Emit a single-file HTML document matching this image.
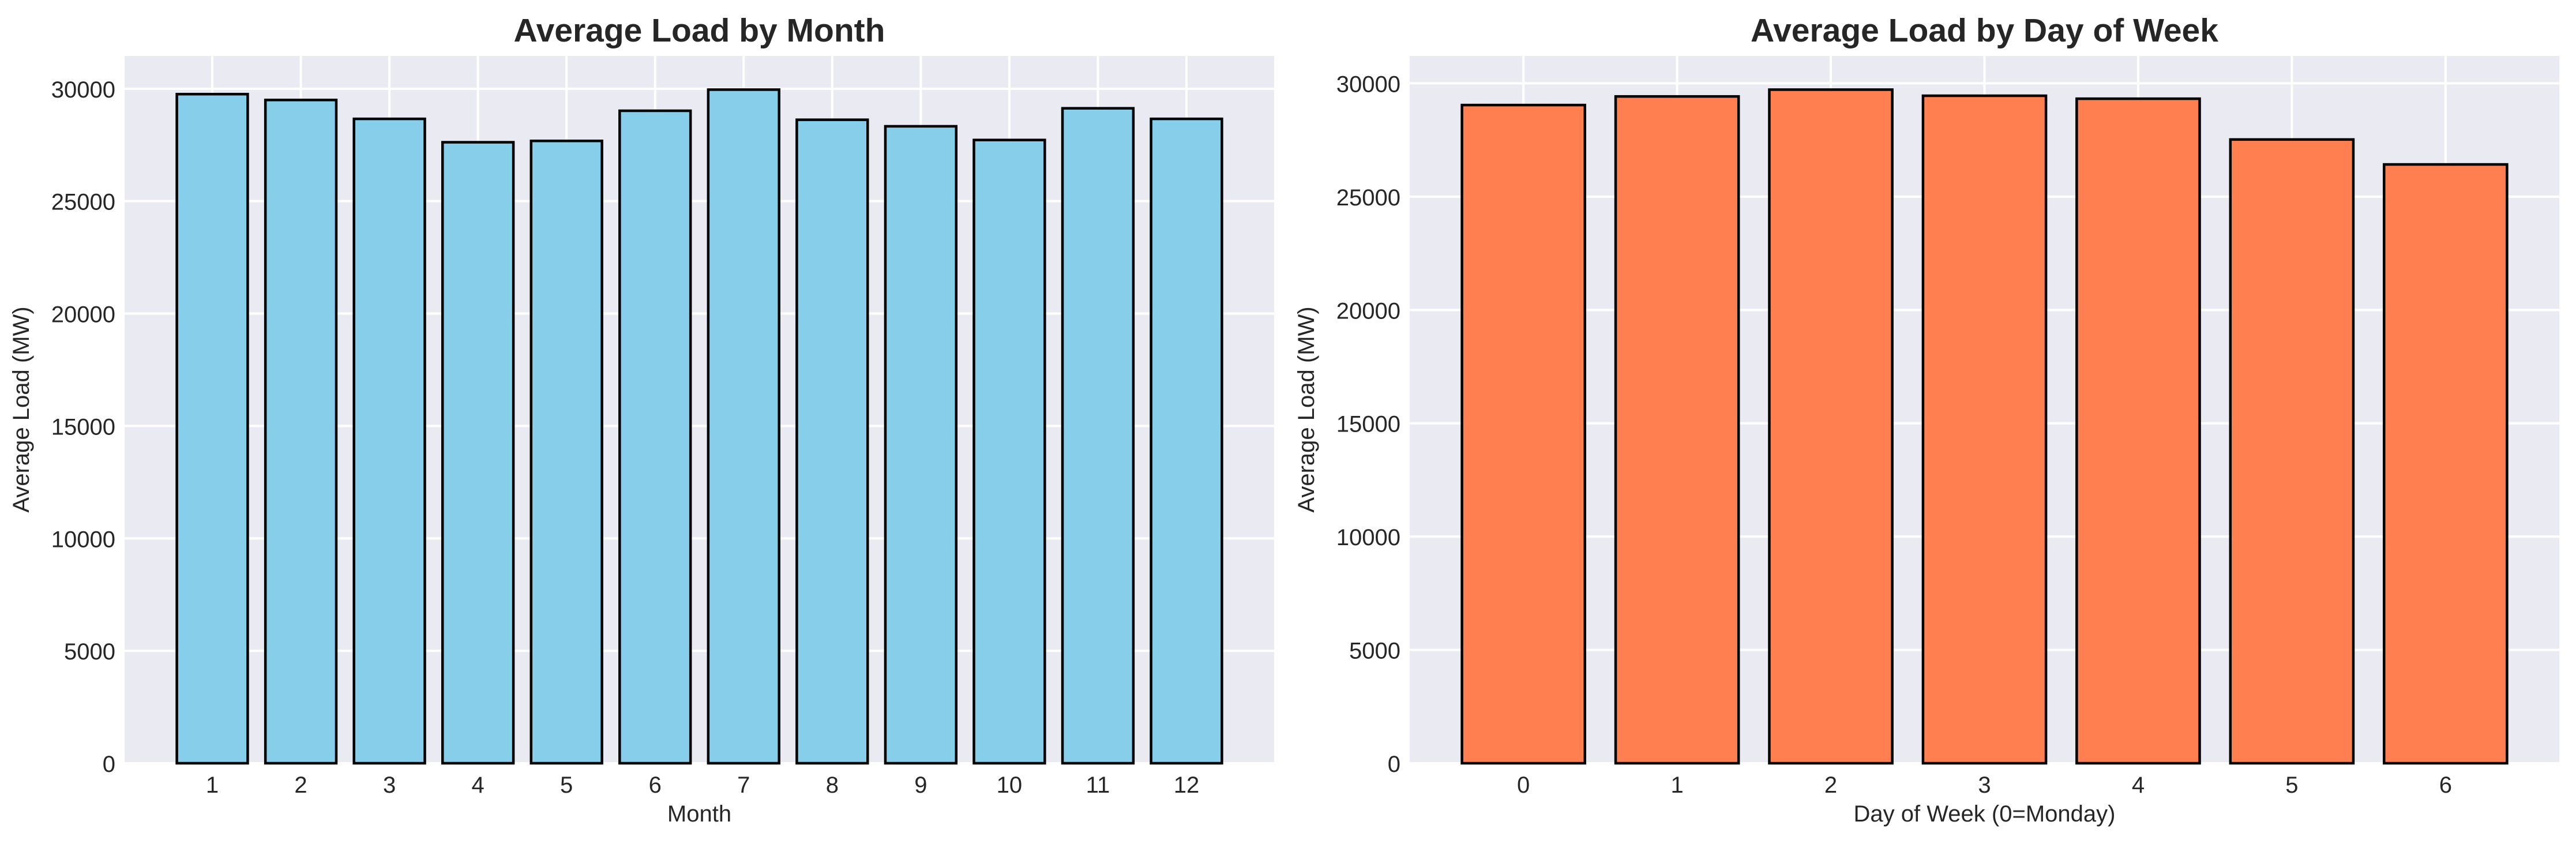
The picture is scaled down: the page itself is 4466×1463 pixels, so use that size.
<!DOCTYPE html>
<html><head><meta charset="utf-8">
<style>
html,body{margin:0;padding:0;background:#fff;}
svg{display:block;font-family:"Liberation Sans",Arial,sans-serif;}
</style></head>
<body>
<svg id="fig" width="4466" height="1463" viewBox="0 0 4466 1463" xmlns="http://www.w3.org/2000/svg"></svg>
<script>
const monthCategories = [1,2,3,4,5,6,7,8,9,10,11,12];
const monthValues = [29760,29500,28660,27620,27680,29020,29960,28620,28330,27720,29130,28660];
const dowCategories = [0,1,2,3,4,5,6];
const dowValues = [29040,29420,29720,29450,29320,27520,26420];
const yTicks = [0,5000,10000,15000,20000,25000,30000];

const NS = "http://www.w3.org/2000/svg";
const svg = document.getElementById('fig');
function mk(tag, attrs, parent){
  const e = document.createElementNS(NS, tag);
  for (const k in attrs) e.setAttribute(k, attrs[k]);
  (parent||svg).appendChild(e);
  return e;
}

function chart(cfg){
  const g = mk('g', {});
  
  
  const L = cfg.left, R = cfg.right, T = 97, B = 1323;
  const cats = cfg.cats, vals = cfg.vals;
  const lo = cats[0] - 0.4, hi = cats[cats.length-1] + 0.4;
  const m = (hi - lo) * 0.05;
  const xmin = lo - m, xmax = hi + m;
  const ymax = Math.max(...vals) * 1.05;
  const xs = v => L + (v - xmin) / (xmax - xmin) * (R - L);
  const ys = v => B - v / ymax * (B - T);

  const bg = mk('rect', {x:L, y:T, width:R-L, height:B-T, fill:'#eaeaf2'}, g);
  
  

  yTicks.forEach(t => {
    if (t > ymax) return;
    const y = ys(t);
    const gl = mk('line', {x1:L, x2:R, y1:y, y2:y, stroke:'#fff', 'stroke-width':4}, g);
    
    
    const tl = mk('text', {x:L-16, y:y+15, 'text-anchor':'end', 'font-size':40, fill:'#262626'}, g);
    tl.textContent = t;
    
    
  });
  cats.forEach(c => {
    const x = xs(c);
    const gl = mk('line', {x1:x, x2:x, y1:T, y2:B, stroke:'#fff', 'stroke-width':4}, g);
    
    
    const tl = mk('text', {x:x, y:B+51, 'text-anchor':'middle', 'font-size':40, fill:'#262626'}, g);
    tl.textContent = c;
    
    
  });
  cats.forEach((c, i) => {
    const x0 = xs(c - 0.4), x1 = xs(c + 0.4), y = ys(vals[i]);
    const b = mk('rect', {x:x0, y:y, width:x1-x0, height:B-y, fill:cfg.color, stroke:'#000', 'stroke-width':4.5}, g);
    
    
  });
  const ti = mk('text', {x:(L+R)/2, y:72, 'text-anchor':'middle', 'font-size':57, 'font-weight':'bold', fill:'#262626'}, g);
  ti.textContent = cfg.title;
  
  
  const xl = mk('text', {x:(L+R)/2, y:1424, 'text-anchor':'middle', 'font-size':40, fill:'#262626'}, g);
  xl.textContent = cfg.xlabel;
  
  
  const yx = cfg.ylabelX, yy = (T+B)/2;
  const yl = mk('text', {x:yx, y:yy, 'text-anchor':'middle', 'font-size':40, fill:'#262626', transform:'rotate(-90 '+yx+' '+yy+')'}, g);
  yl.textContent = 'Average Load (MW)';
  
  
}

chart({name:'month-chart', left:216, right:2209, cats:monthCategories, vals:monthValues, color:'#87ceeb', title:'Average Load by Month', xlabel:'Month', ylabelX:50});
chart({name:'day-of-week-chart', left:2444, right:4437, cats:dowCategories, vals:dowValues, color:'#ff7f50', title:'Average Load by Day of Week', xlabel:'Day of Week (0=Monday)', ylabelX:2278});
</script>
</body></html>
